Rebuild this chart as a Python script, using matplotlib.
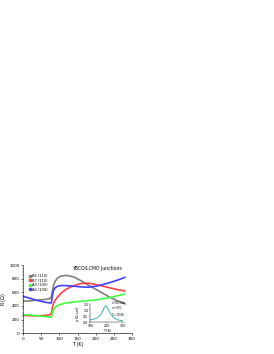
import numpy as np
import matplotlib
matplotlib.use('Agg')
from matplotlib import pyplot as plt

# temperature grid points (K)
t_pts = [2, 20, 40, 60, 72, 78, 81, 84, 88, 95, 105, 120, 140, 160, 180, 200, 220, 240, 260, 280]
# resistance of each junction (Ohm)
b6 = [470, 475, 485, 495, 505, 530, 620, 700, 760, 810, 840, 850, 825, 770, 705, 645, 585, 525, 475, 430]
b7 = [260, 255, 255, 260, 268, 290, 380, 440, 480, 530, 590, 650, 700, 730, 735, 715, 690, 665, 640, 620]
a3 = [270, 265, 255, 245, 238, 235, 300, 350, 380, 405, 425, 445, 458, 468, 478, 490, 505, 525, 550, 575]
a6 = [540, 510, 480, 455, 445, 445, 560, 630, 665, 690, 700, 698, 690, 680, 675, 690, 715, 745, 780, 820]
labels = ['B6 (110)', 'B7 (110)', 'A3 (100)', 'A6 (100)']
colors = ['#808080', '#ff4040', '#40ff40', '#4040ff']

# inset: LCMO film resistivity
t_in = [100, 120, 140, 160, 175, 185, 194, 205, 220, 240, 260, 280, 300]
rho_in = [0.2, 0.25, 0.35, 0.6, 0.95, 1.25, 1.4, 1.2, 0.75, 0.4, 0.22, 0.15, 0.1]

plt.rcParams['font.family'] = ['DejaVu Sans']
fig = plt.figure(figsize=(2.74, 3.54), dpi=100)
ax = fig.add_axes([0.084, 0.059, 0.398, 0.192])
for y, lab, c in zip([b6, b7, a3, a6], labels, colors):
    ax.plot(t_pts, y, color=c, lw=1.2)
    ax.plot([], [], 's', color=c, ms=1.5, label=lab)
ax.set_xlim(0, 300)
ax.set_ylim(0, 1000)
ax.set_xticks([0, 50, 100, 150, 200, 250, 300])
ax.set_yticks([0, 200, 400, 600, 800, 1000])
ax.minorticks_on()
ax.tick_params(labelsize=3, length=1.5, width=0.4, pad=1)
ax.tick_params(which='minor', length=0.8, width=0.3)
for s in ax.spines.values():
    s.set_linewidth(0.4)
ax.spines['top'].set_visible(False)
ax.spines['right'].set_visible(False)
ax.set_xlabel('T (K)', fontsize=3.5, labelpad=1)
ax.set_ylabel(r'R ($\Omega$)', fontsize=3.5, labelpad=1)
ax.text(0.45, 0.93, 'YBCO/LCMO Junctions', transform=ax.transAxes, fontsize=3.3)
ax.legend(loc='upper left', bbox_to_anchor=(0.03, 0.9), fontsize=2.6, frameon=False,
          handlelength=0.6, handletextpad=0.4, labelspacing=0.15, borderpad=0.1)

ins = fig.add_axes([0.33, 0.09, 0.12, 0.05])
ins.plot(t_in, rho_in, color='#40b0b0', lw=0.7)
ins.set_xlim(100, 300)
ins.set_ylim(0, 1.5)
ins.set_xticks([100, 200, 300])
ins.set_yticks([0.0, 0.5, 1.0, 1.5])
ins.tick_params(labelsize=2.3, length=1, width=0.3, pad=0.5)
for s in ins.spines.values():
    s.set_linewidth(0.3)
ins.spines['top'].set_visible(False)
ins.spines['right'].set_visible(False)
ins.patch.set_alpha(0)
ins.set_xlabel('T (K)', fontsize=2.5, labelpad=0.5)
ins.set_ylabel(r'$\rho$ ($\Omega$ cm)', fontsize=2.5, labelpad=0.5)
ins.text(0.65, 0.75, 'LCMO film\non STO', transform=ins.transAxes, fontsize=1.9)
ins.text(0.62, 0.3, r'T$_c$=194K', transform=ins.transAxes, fontsize=2.0)

fig.savefig('out.png', dpi=100)
